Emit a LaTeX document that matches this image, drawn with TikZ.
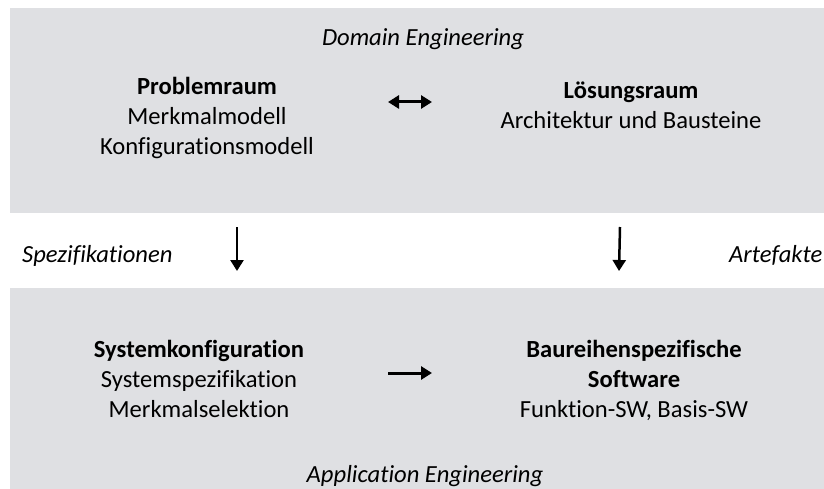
\documentclass[tikz,border=0pt]{standalone}
\usepackage{fontspec}
\setmainfont{Carlito}[Ligatures=NoCommon]
\usetikzlibrary{arrows.meta}
\definecolor{bandgray}{RGB}{223,224,227}

\begin{document}
\begin{tikzpicture}[x=1pt,y=-1pt,
	txt/.style={font=\fontsize{24.6}{30}\selectfont,inner sep=0pt,align=center,anchor=base},
	pfeil/.style={line width=3pt,-{Triangle[length=11pt,width=13pt]}},
	dpfeil/.style={line width=3pt,{Triangle[length=11pt,width=13pt]}-{Triangle[length=11pt,width=13pt]}}]
\useasboundingbox (0,0) rectangle (824,489);
\fill[bandgray] (10,8) rectangle (824,213);
\fill[bandgray] (10,288) rectangle (824,489);
\node[txt] (DE) at (423,46) {\itshape Domain Engineering};
\node[txt] (AE) at (425,482) {\itshape Application Engineering};
\node[txt] (P) at (207,155) {\textbf{Problemraum}\\Merkmalmodell\\Konfigurationsmodell};
\node[txt] (L) at (631,129) {\textbf{Lösungsraum}\\Architektur und Bausteine};
\node[txt] (S) at (199,417) {\textbf{Systemkonfiguration}\\Systemspezifikation\\Merkmalselektion};
\node[txt] (B) at (634,417) {\textbf{Baureihenspezifische}\\\textbf{Software}\\Funktion-SW, Basis-SW};
\node[txt,anchor=base west] (SP) at (22,262) {\itshape Spezifikationen};
\node[txt,anchor=base west] (AR) at (729,262) {\itshape Artefakte};
\coordinate (A1) at (388,102);
\coordinate (A2) at (432,102);
\coordinate (B1) at (388,373);
\coordinate (B2) at (432,373);
\coordinate (C1) at (237,227);
\coordinate (C2) at (237,271);
\coordinate (D1) at (620,227);
\coordinate (D2) at (619,271);
\draw[dpfeil] (A1) -- (A2);
\draw[pfeil] (B1) -- (B2);
\draw[pfeil,line width=2.5pt] (C1) -- (C2);
\draw[pfeil,line width=2.5pt] (D1) -- (D2);
\end{tikzpicture}
\end{document}
